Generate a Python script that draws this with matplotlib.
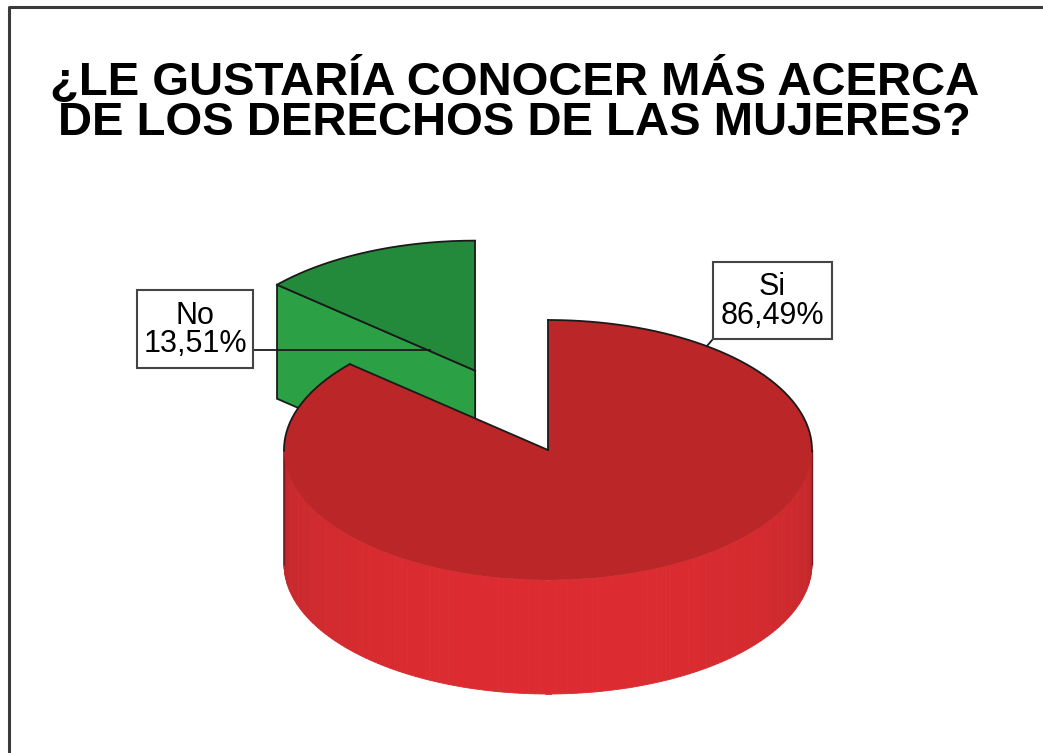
import numpy as np
import matplotlib.pyplot as plt
from matplotlib.patches import Polygon, Rectangle
from matplotlib.colors import to_rgb

# Datos del grafico
categorias = ['No', 'Si']
porcentajes = [13.51, 86.49]
etiquetas = ['No\n13,51%', 'Si\n86,49%']
titulo = ['¿LE GUSTARÍA CONOCER MÁS ACERCA', 'DE LOS DERECHOS DE LAS MUJERES?']

colores_tapa = ['#248a3b', '#bb2629']
colores_lado = ['#2ba044', '#dd2c31']
colores_borde_lado = ['#2ba044', '#bc272a']

# Geometria del pastel (en pixeles)
cx, cy = 548, 450
rx, ry = 264, 130
prof = 114
explode = [0.67, 0.0]


def punto(a, ox, oy, z=0):
    return ox + rx * np.cos(a), oy - ry * np.sin(a) + z


def mezclar(c1, c2, t):
    c1, c2 = np.array(to_rgb(c1)), np.array(to_rgb(c2))
    return tuple(c1 + (c2 - c1) * t)


fig = plt.figure(figsize=(10.43, 7.53), dpi=100)
ax = fig.add_axes([0, 0, 1, 1])
ax.set_xlim(0, 1043)
ax.set_ylim(753, 0)
ax.axis('off')

# Angulos de cada porcion (sentido antihorario desde las 12)
total = sum(porcentajes)
inicio = np.radians(90)
rangos = []
for p in porcentajes:
    fin = inicio + 2 * np.pi * p / total
    rangos.append((inicio, fin))
    inicio = fin

for i, (a0, a1) in enumerate(rangos):
    mid = (a0 + a1) / 2
    ox = cx + explode[i] * rx * np.cos(mid)
    oy = cy - explode[i] * ry * np.sin(mid)
    z = 2 + 3 * i

    # pared radial visible (la que mira hacia el frente)
    for a, signo in [(a0, -1), (a1, 1)]:
        normal = a + signo * np.pi / 2
        if np.sin(normal) < -1e-6:
            px, py = punto(a, ox, oy)
            cara = [(ox, oy), (px, py), (px, py + prof), (ox, oy + prof)]
            ax.add_patch(Polygon(cara, closed=True, facecolor=colores_lado[i],
                                 edgecolor='#1a1a1a', lw=1.3, zorder=z))

    # pared exterior (parte frontal, de 180 a 360 grados)
    w0 = max(a0, np.pi)
    w1 = min(a1, 2 * np.pi)
    if w1 > w0:
        angs = np.linspace(w0, w1, 160)
        for k in range(len(angs) - 1):
            aa, bb = angs[k], angs[k + 1]
            t = -np.sin((aa + bb) / 2)
            col = mezclar(colores_borde_lado[i], colores_lado[i], t ** 0.7)
            x0, y0 = punto(aa, ox, oy)
            x1, y1 = punto(bb, ox, oy)
            ax.add_patch(Polygon([(x0, y0), (x1, y1), (x1, y1 + prof), (x0, y0 + prof)],
                                 closed=True, facecolor=col, edgecolor=col, lw=0.6,
                                 zorder=z))
        for wa in (w0, w1):
            xw, yw = punto(wa, ox, oy)
            ax.plot([xw, xw], [yw, yw + prof], color='#7a1a1c', lw=1.0, zorder=z)

    # tapa superior
    arco = np.linspace(a0, a1, 300)
    xs, ys = punto(arco, ox, oy)
    tapa = [(ox, oy)] + list(zip(xs, ys))
    ax.add_patch(Polygon(tapa, closed=True, facecolor=colores_tapa[i],
                         edgecolor='none', zorder=z + 1))
    # contorno: bordes radiales y arco trasero
    atras = np.sin(arco) >= -0.02
    xs_m = np.where(atras, xs, np.nan)
    ys_m = np.where(atras, ys, np.nan)
    ax.plot(xs_m, ys_m, color='#1a1a1a', lw=1.3, zorder=z + 2)
    for a in (a0, a1):
        px, py = punto(a, ox, oy)
        ax.plot([ox, px], [oy, py], color='#1a1a1a', lw=1.3, zorder=z + 2)

# Etiquetas con recuadro y lineas guia
cajas = [(137, 290, 116, 78), (713, 262, 119, 77)]
guias = [[(253, 350), (430, 350)], [(713, 339), (707, 346)]]
for etiqueta, (bx, by, bw, bh), g in zip(etiquetas, cajas, guias):
    ax.add_patch(Rectangle((bx, by), bw, bh, facecolor='white',
                           edgecolor='#444444', lw=1.5, zorder=10))
    ax.text(bx + bw / 2, by + bh / 2 + 1, etiqueta, ha='center', va='center',
            fontsize=22, family='Liberation Sans', linespacing=0.92, zorder=11)
    ax.plot([p[0] for p in g], [p[1] for p in g], color='#1a1a1a', lw=1.3, zorder=9)

# Titulo
ax.text(515, 95, titulo[0], ha='center', va='baseline', fontsize=34,
        fontweight='bold', family='Liberation Sans')
ax.text(514, 135, titulo[1], ha='center', va='baseline', fontsize=34,
        fontweight='bold', family='Liberation Sans')

# Marco
ax.plot([9, 9, 1043], [753, 6.5, 6.5], color='#3a3a3a', lw=2.2, zorder=20)

fig.savefig('out.png', dpi=100)
